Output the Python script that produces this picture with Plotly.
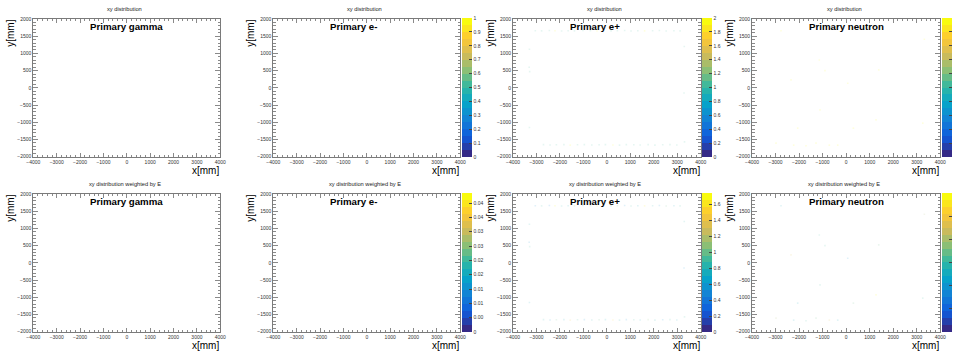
import plotly.graph_objects as go

W, H = 956, 351
FONT = "Liberation Sans, Arial, Helvetica, sans-serif"

# ---------------- data ----------------
row_titles = ["xy distribution", "xy distribution weighted by E"]
particles = ["Primary gamma", "Primary e-", "Primary e+", "Primary neutron"]
x_title = "x[mm]"
y_title = "y[mm]"

x_range = [-4000, 4000]
y_range = [-2000, 2000]

# palette maxima per panel; None -> empty histogram (no palette)
z_max = [[None, 1.0, 2.0, 1.0],
         [None, 0.0485, 1.74, 1.2]]

cb_tickvals = [
    [None,
     [0, 0.1, 0.2, 0.3, 0.4, 0.5, 0.6, 0.7, 0.8, 0.9, 1.0],
     [0, 0.2, 0.4, 0.6, 0.8, 1.0, 1.2, 1.4, 1.6, 1.8, 2.0],
     [0, 0.1, 0.2, 0.3, 0.4, 0.5, 0.6, 0.7, 0.8, 0.9, 1.0]],
    [None,
     [0, 0.005, 0.01, 0.015, 0.02, 0.025, 0.03, 0.035, 0.04, 0.045],
     [0, 0.2, 0.4, 0.6, 0.8, 1.0, 1.2, 1.4, 1.6],
     [0, 0.2, 0.4, 0.6, 0.8, 1.0, 1.2]],
]
# labels as they appear (clipped by the neighbouring pad in the original)
cb_ticktext = [
    [None,
     ["0", "0.1", "0.2", "0.3", "0.4", "0.5", "0.6", "0.7", "0.8", "0.9", "1"],
     ["0", "0.2", "0.4", "0.6", "0.8", "1", "1.2", "1.4", "1.6", "1.8", "2"],
     None],
    [None,
     ["0", "0.00", "0.01", "0.01", "0.02", "0.02", "0.03", "0.03", "0.04", "0.04"],
     ["0", "0.2", "0.4", "0.6", "0.8", "1", "1.2", "1.4", "1.6"],
     None],
]

# sparse hits (nearly invisible sub-pixel bins)
eplus_x = [-3050, -2780, -2450, -2210, -1930, -1650, -1380, -1020, -700, -420, -150, 180,
           450, 760, 1030, 1320, 1610, 1950, 2240, 2530, 2860, 3120,
           -2700, -2420, -2150, -1830, -1560, -1250, -960, -640, -330, -60, 260, 540,
           830, 1150, 1420, 1760, 2050, 2380, 2690, 2980,
           -3300, -3310, -3290, -3300, 3300, 3290, 3310]
eplus_y = [1660, 1655, 1665, 1660, 1650, 1660, 1655, 1665, 1660, 1650, 1660, 1655,
           1660, 1665, 1650, 1660, 1655, 1660, 1665, 1650, 1660, 1655,
           -1650, -1660, -1655, -1650, -1665, -1655, -1650, -1660, -1655, -1650, -1660, -1665,
           -1650, -1655, -1660, -1650, -1665, -1655, -1650, -1660,
           1120, 600, 470, -1150, 1200, -150, -1570]
eplus_counts = [1, 1, 1, 2, 1, 1, 1, 1, 1, 2, 1, 1,
                1, 1, 1, 1, 2, 1, 1, 1, 1, 1,
                1, 1, 1, 1, 2, 1, 1, 1, 1, 1, 2, 1,
                1, 1, 1, 1, 1, 1, 1, 1,
                1, 1, 1, 1, 1, 1, 1]
eplus_energy = [0.6, 0.9, 0.5, 1.7, 0.8, 0.7, 1.1, 0.6, 0.9, 1.5, 0.7, 0.8,
                1.0, 0.6, 0.9, 0.7, 1.6, 0.8, 0.6, 1.0, 0.7, 0.9,
                0.8, 0.6, 1.0, 0.7, 1.4, 0.9, 0.6, 0.8, 1.0, 0.7, 1.5, 0.8,
                0.6, 0.9, 0.7, 1.1, 0.8, 0.6, 0.9, 0.7,
                0.8, 0.6, 0.9, 0.7, 0.8, 0.6, 0.9]

neutron_x = [-2767, 3323, -1140, 1384, -2342, 67, -1110, 1270, -2058, 307, 3255,
             -2980, -2229, -1705, -1280, -714, -358, -900]
neutron_y = [1660, 1411, 811, 521, 231, 135, -639, -929, -1170, -1170, -1025,
             -1605, -1663, -1683, -1605, -1663, -1663, 500]
neutron_counts = [1, 1, 1, 1, 1, 1, 1, 1, 1, 1, 1, 1, 1, 1, 1, 1, 1, 1]
neutron_energy = [0.5, 0.8, 0.6, 0.7, 0.9, 0.4, 0.6, 1.2, 0.5, 0.7, 0.6,
                  0.8, 0.5, 0.6, 0.7, 0.9, 0.5, 0.6]

hits = [
    [None, None, (eplus_x, eplus_y, eplus_counts), (neutron_x, neutron_y, neutron_counts)],
    [None, None, (eplus_x, eplus_y, eplus_energy), (neutron_x, neutron_y, neutron_energy)],
]

# ---------------- layout geometry (px) ----------------
plot_left = [33.3, 273.3, 513.0, 752.0]
plot_right = [220.3, 460.3, 700.7, 940.3]
plot_top = [19.0, 194.0]
plot_bot = [156.7, 331.7]
cb_left = [None, 462.0, 702.0, 942.0]
cb_top = [18.0, 193.0]
cb_bot = [157.0, 332.0]


def px(x):
    return x / W


def py(y):
    return 1 - y / H


# ROOT kBird palette, 20 contour levels
bird_stops = [0.0, 0.125, 0.25, 0.375, 0.5, 0.625, 0.75, 0.875, 1.0]
bird_r = [0.2082, 0.0592, 0.0780, 0.0232, 0.1802, 0.5301, 0.8186, 0.9956, 0.9764]
bird_g = [0.1664, 0.3599, 0.5041, 0.6419, 0.7178, 0.7492, 0.7328, 0.7862, 0.9832]
bird_b = [0.5293, 0.8684, 0.8385, 0.7914, 0.6425, 0.4662, 0.3499, 0.1968, 0.0539]


def bird(t):
    for k in range(len(bird_stops) - 1):
        if t <= bird_stops[k + 1] or k == len(bird_stops) - 2:
            f = (t - bird_stops[k]) / (bird_stops[k + 1] - bird_stops[k])
            f = max(0.0, min(1.0, f))
            r = bird_r[k] + f * (bird_r[k + 1] - bird_r[k])
            g = bird_g[k] + f * (bird_g[k + 1] - bird_g[k])
            b = bird_b[k] + f * (bird_b[k + 1] - bird_b[k])
            return "rgb(%d,%d,%d)" % (round(r * 255), round(g * 255), round(b * 255))


NC = 20
colorscale = []
for i in range(NC):
    c = bird(i / (NC - 1))
    colorscale.append([i / NC, c])
    colorscale.append([(i + 1) / NC, c])

fig = go.Figure()
layout = dict(
    width=W, height=H,
    margin=dict(l=0, r=0, t=0, b=0, autoexpand=False),
    paper_bgcolor="white", plot_bgcolor="white",
    showlegend=False,
    font=dict(family=FONT, color="black"),
)
annotations = []

frame_col = "#7a7a7a"
tick_col = "#8a8a8a"
lab_col = "#333333"

n = 0
ca = 0
for r in range(2):
    for c in range(4):
        n += 1
        xa = "x" if n == 1 else "x%d" % n
        ya = "y" if n == 1 else "y%d" % n
        xkey = "xaxis" if n == 1 else "xaxis%d" % n
        ykey = "yaxis" if n == 1 else "yaxis%d" % n
        layout[xkey] = dict(
            domain=[px(plot_left[c]), px(plot_right[c])], anchor=ya,
            range=x_range, tickmode="linear", tick0=0, dtick=1000,
            ticks="inside", ticklen=4, tickwidth=1, tickcolor=tick_col,
            minor=dict(dtick=200, tick0=0, ticks="inside", ticklen=2, tickcolor=tick_col, tickwidth=1),
            showline=True, linecolor=frame_col, linewidth=1, mirror="ticks",
            showgrid=False, zeroline=False, tickformat="d",
            tickfont=dict(size=5, color=lab_col, family=FONT), fixedrange=True,
        )
        layout[ykey] = dict(
            domain=[py(plot_bot[r]), py(plot_top[r])], anchor=xa,
            range=y_range, tickmode="linear", tick0=0, dtick=500,
            ticks="inside", ticklen=5, tickwidth=1, tickcolor=tick_col,
            minor=dict(dtick=100, tick0=0, ticks="inside", ticklen=2.5, tickcolor=tick_col, tickwidth=1),
            showline=True, linecolor=frame_col, linewidth=1, mirror="ticks",
            showgrid=False, zeroline=False, tickformat="d",
            tickfont=dict(size=5, color=lab_col, family=FONT), fixedrange=True,
        )

        zm = z_max[r][c]
        h = hits[r][c]
        if zm is None:
            fig.add_trace(go.Scatter(x=[None], y=[None], xaxis=xa, yaxis=ya,
                                     mode="markers", hoverinfo="skip"))
        else:
            ca += 1
            cakey = "coloraxis" if ca == 1 else "coloraxis%d" % ca
            show_lab = cb_ticktext[r][c] is not None
            cb = dict(
                x=px(cb_left[c]), xanchor="left",
                y=py((cb_top[r] + cb_bot[r]) / 2), yanchor="middle",
                len=(cb_bot[r] - cb_top[r]) / H, lenmode="fraction",
                thickness=10, thicknessmode="pixels",
                xpad=0, ypad=0, outlinewidth=0,
                ticks="inside", ticklen=3, tickwidth=1, tickcolor="#444444",
                tickmode="array", tickvals=cb_tickvals[r][c],
                showticklabels=show_lab,
                tickfont=dict(size=5, color=lab_col, family=FONT),
            )
            if show_lab:
                cb["ticktext"] = cb_ticktext[r][c]
            layout[cakey] = dict(cmin=0, cmax=zm, colorscale=colorscale,
                                 showscale=True, colorbar=cb)
            if h is None:
                fig.add_trace(go.Scatter(x=[None], y=[None], xaxis=xa, yaxis=ya,
                                         mode="markers", hoverinfo="skip",
                                         marker=dict(color=[0], coloraxis=cakey)))
            else:
                fig.add_trace(go.Scatter(
                    x=h[0], y=h[1], xaxis=xa, yaxis=ya, mode="markers", hoverinfo="skip",
                    marker=dict(symbol="square", size=1.6, opacity=0.13,
                                color=h[2], coloraxis=cakey,
                                line=dict(width=0)),
                ))

        # pad title
        annotations.append(dict(
            text=row_titles[r], xref="paper", yref="paper",
            x=px((plot_left[c] + plot_right[c]) / 2 - 2), y=py(plot_top[r] - 10),
            xanchor="center", yanchor="middle", showarrow=False,
            font=dict(size=5.7, color="#222222", family=FONT)))
        # particle label
        annotations.append(dict(
            text="<b>%s</b>" % particles[c], xref="paper", yref="paper",
            x=px(plot_left[c] + 55), y=py(plot_top[r] + 7.5),
            xanchor="left", yanchor="middle", showarrow=False,
            font=dict(size=9.7, color="black", family=FONT)))
        # x title
        annotations.append(dict(
            text=x_title, xref="paper", yref="paper",
            x=px(plot_right[c] + 1), y=py(plot_bot[r] + 13.5),
            xanchor="right", yanchor="middle", showarrow=False,
            font=dict(size=10, color="black", family=FONT)))
        # y title
        annotations.append(dict(
            text=y_title, xref="paper", yref="paper",
            x=px(plot_left[c] - 23), y=py(plot_top[r] - 1),
            xanchor="center", yanchor="top", textangle=-90, showarrow=False,
            font=dict(size=10, color="black", family=FONT)))

layout["annotations"] = annotations
fig.update_layout(**layout)
fig.write_html("out.html")
